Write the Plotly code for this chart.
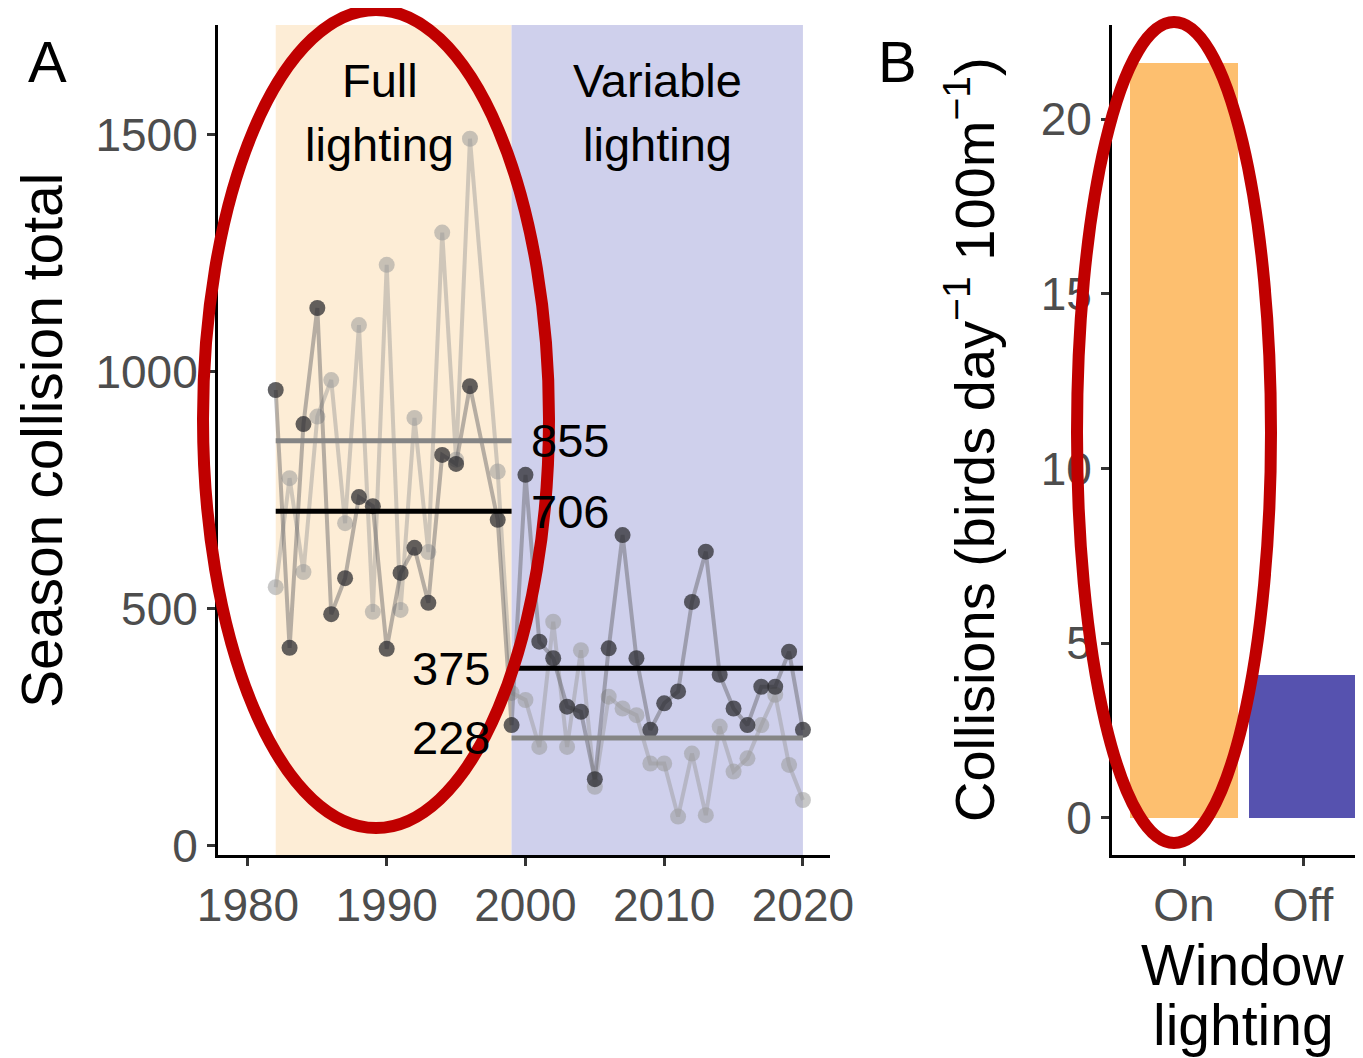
import plotly.graph_objects as go

# The page places the figure 8px from the top-left corner (body margin),
# so layout positions below are given in window pixels and shifted.
OFF = 8
W, H = 1363 - OFF, 1058 - OFF

# ---- Panel A data ----
years = [1982, 1983, 1984, 1985, 1986, 1987, 1988, 1989, 1990, 1991, 1992, 1993,
         1994, 1995, 1996, 1998, 1999, 2000, 2001, 2002, 2003, 2004, 2005, 2006,
         2007, 2008, 2009, 2010, 2011, 2012, 2013, 2014, 2015, 2016, 2017, 2018,
         2019, 2020]
light_vals = [546, 776, 578, 906, 983, 681, 1099, 494, 1226, 498, 903, 620,
              1294, 815, 1492, 790, 323, 308, 209, 473, 209, 413, 125, 315,
              290, 276, 174, 174, 62, 195, 65, 252, 157, 185, 255, 319, 171, 97]
dark_vals = [962, 418, 890, 1135, 489, 565, 736, 717, 416, 576, 629, 513,
             825, 806, 970, 688, 255, 783, 431, 396, 294, 283, 141, 417,
             656, 396, 245, 301, 326, 515, 621, 361, 290, 255, 336, 336, 410, 245]
period_names = [["Full", "lighting"], ["Variable", "lighting"]]
period_label_x = [1989.5, 2009.5]
period_bounds = [(1982, 1999), (1999, 2020)]
light_means = [855, 228]
dark_means = [706, 375]
x_ticks_a = [1980, 1990, 2000, 2010, 2020]
y_ticks_a = [0, 500, 1000, 1500]

# ---- Panel B data ----
lighting_cats = ["On", "Off"]
collision_rates = [21.6, 4.1]
y_ticks_b = [0, 5, 10, 15, 20]
x_title_b = ["Window", "lighting"]

orange_bg = "#FDEDD6"
blue_bg = "#CFD0EC"
bar_colors = ["#FDBF6F", "#5652AF"]
tick_col = "#4D4D4D"
FONT = "Liberation Sans, Arial, sans-serif"

def px(x):
    return (x - OFF) / W

def py(y):
    return 1 - (y - OFF) / H

fig = go.Figure()

# light series
fig.add_trace(go.Scatter(x=years, y=light_vals, mode="lines+markers",
                         line=dict(color="rgba(150,150,150,0.45)", width=4),
                         marker=dict(color="rgba(155,155,155,0.55)", size=16),
                         xaxis="x", yaxis="y", showlegend=False))
# dark series
fig.add_trace(go.Scatter(x=years, y=dark_vals, mode="lines+markers",
                         line=dict(color="rgba(95,95,100,0.45)", width=4),
                         marker=dict(color="rgba(45,45,50,0.75)", size=16),
                         xaxis="x", yaxis="y", showlegend=False))

# mean lines
for (x0, x1), m in zip(period_bounds, light_means):
    fig.add_trace(go.Scatter(x=[x0, x1], y=[m, m], mode="lines",
                             line=dict(color="#858585", width=5),
                             xaxis="x", yaxis="y", showlegend=False, hoverinfo="skip"))
for (x0, x1), m in zip(period_bounds, dark_means):
    fig.add_trace(go.Scatter(x=[x0, x1], y=[m, m], mode="lines",
                             line=dict(color="#000000", width=5),
                             xaxis="x", yaxis="y", showlegend=False, hoverinfo="skip"))

# bars
fig.add_trace(go.Bar(x=[0, 1], y=collision_rates, width=0.9,
                     marker=dict(color=bar_colors, line=dict(width=0)),
                     xaxis="x2", yaxis="y2", showlegend=False))

shapes = []
# period backgrounds
for (x0, x1), c in zip(period_bounds, [orange_bg, blue_bg]):
    shapes.append(dict(type="rect", xref="x", yref="y domain", x0=x0, x1=x1, y0=0, y1=1,
                       fillcolor=c, line=dict(width=0), layer="below"))
# red ellipses
shapes.append(dict(type="circle", xref="paper", yref="paper",
                   x0=px(203), x1=px(549), y0=py(828), y1=py(10),
                   line=dict(color="#C00000", width=12), layer="above"))
shapes.append(dict(type="circle", xref="paper", yref="paper",
                   x0=px(1077), x1=px(1271), y0=py(843), y1=py(22),
                   line=dict(color="#C00000", width=12), layer="above"))

def A(**kw):
    base = dict(showarrow=False, xanchor="center", yanchor="middle")
    base.update(kw)
    return base

TXT = 47
ann = []
for lx, lines in zip(period_label_x, period_names):
    for line, ypix in zip(lines, [80, 145]):
        ann.append(A(x=lx, xref="x", y=py(ypix), yref="paper", text=line,
                     font=dict(size=TXT, color="black", family=FONT)))
# mean labels
for m in light_means[:1] + dark_means[:1]:
    ann.append(A(x=2003.2, y=m, xref="x", yref="y", text=str(m),
                 font=dict(size=TXT, color="black", family=FONT)))
for m in dark_means[1:] + light_means[1:]:
    ann.append(A(x=1994.6, y=m, xref="x", yref="y", text=str(m),
                 font=dict(size=TXT, color="black", family=FONT)))
# panel letters
ann.append(A(x=px(47), y=py(62), xref="paper", yref="paper", text="A",
             font=dict(size=58, color="black", family=FONT)))
ann.append(A(x=px(897), y=py(62), xref="paper", yref="paper", text="B",
             font=dict(size=58, color="black", family=FONT)))
# axis titles
ann.append(A(x=px(42), y=py(440), xref="paper", yref="paper", text="Season collision total",
             textangle=-90, font=dict(size=57, color="black", family=FONT)))
ann.append(A(x=px(970), y=py(440), xref="paper", yref="paper",
             text="Collisions (birds day<sup>\u22121</sup> 100m<sup>\u22121</sup>)",
             textangle=-90, font=dict(size=56, color="black", family=FONT)))
for line, ypix in zip(x_title_b, [965, 1025]):
    ann.append(A(x=px(1243), y=py(ypix), xref="paper", yref="paper", text=line,
                 font=dict(size=57, color="black", family=FONT)))

axis_common = dict(showline=True, linecolor="black", linewidth=3, ticks="outside",
                   ticklen=8, tickwidth=3, tickcolor="#333333", showgrid=False,
                   zeroline=False, automargin=False,
                   tickfont=dict(size=46, color=tick_col, family=FONT))

fig.update_layout(
    width=W, height=H, margin=dict(l=0, r=0, t=0, b=0, autoexpand=False),
    paper_bgcolor="white", plot_bgcolor="white",
    xaxis=dict(domain=[px(218), px(830)], range=[1977.84, 2021.95], tickvals=x_ticks_a,
               anchor="y", **axis_common),
    yaxis=dict(domain=[py(855), py(25)], range=[-19, 1732], tickvals=y_ticks_a,
               anchor="x", **axis_common),
    xaxis2=dict(domain=[px(1112), 1.0], range=[-0.605, 1.504], tickvals=[0, 1],
                ticktext=lighting_cats, anchor="y2", **axis_common),
    yaxis2=dict(domain=[py(855), py(25)], range=[-1.06, 22.69], tickvals=y_ticks_b,
                anchor="x2", **axis_common),
    shapes=shapes, annotations=ann, font=dict(family=FONT), bargap=0,
)

fig.write_html("out.html")
